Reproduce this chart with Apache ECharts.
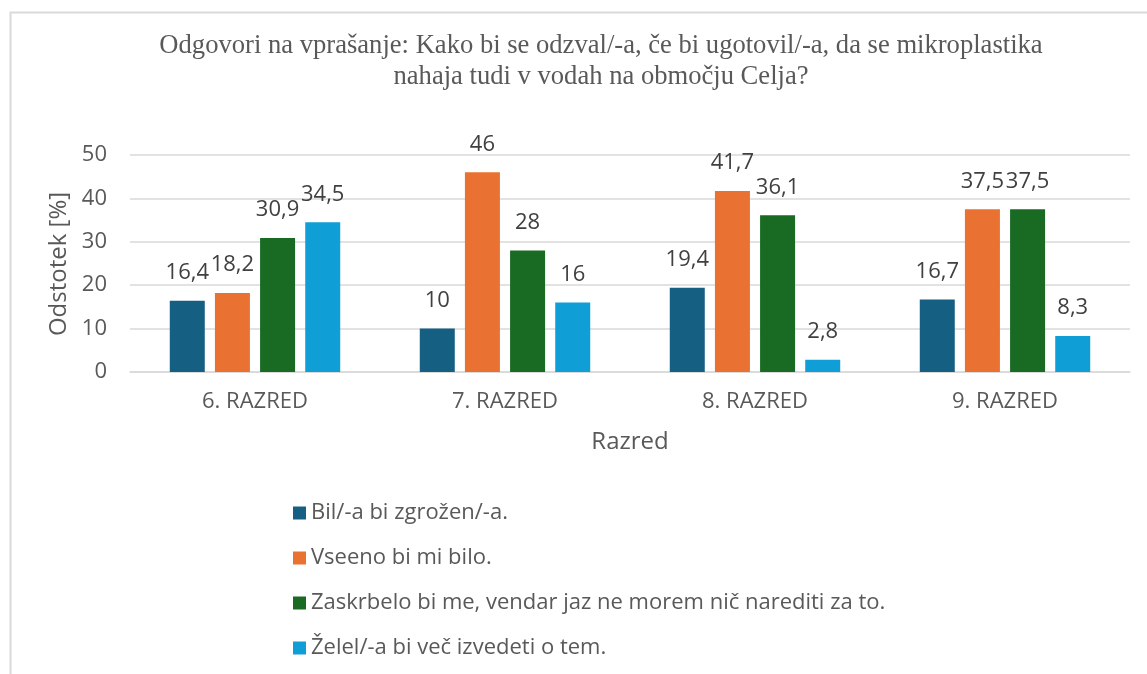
<!DOCTYPE html>
<html><head><meta charset="utf-8">
<script src="https://cdn.jsdelivr.net/npm/echarts@6/dist/echarts.min.js"></script>
<style>html,body{margin:0;padding:0;background:#fff}#c{width:1147px;height:674px}</style>
</head><body><div id="c"></div>
<script>
const categories = ['6. RAZRED', '7. RAZRED', '8. RAZRED', '9. RAZRED'];
const seriesNames = ['Bil/-a bi zgrožen/-a.', 'Vseeno bi mi bilo.', 'Zaskrbelo bi me, vendar jaz ne morem nič narediti za to.', 'Želel/-a bi več izvedeti o tem.'];
const zgrozen = [16.4, 10, 19.4, 16.7];
const vseeno = [18.2, 46, 41.7, 37.5];
const zaskrbelo = [30.9, 28, 36.1, 37.5];
const zelel = [34.5, 16, 2.8, 8.3];
const yTicks = [0, 10, 20, 30, 40, 50];
const colors = ['#156082', '#E97132', '#196B24', '#0F9ED5'];
const titleText = 'Odgovori na vprašanje: Kako bi se odzval/-a, če bi ugotovil/-a, da se mikroplastika\nnahaja tudi v vodah na območju Celja?';
const yAxisName = 'Odstotek [%]';
const xAxisName = 'Razred';

const values = [zgrozen, vseeno, zaskrbelo, zelel];
const chart = echarts.init(document.getElementById('c'));
const sans = 'Open Sans, Noto Sans, sans-serif';
chart.setOption({
  animation: false,
  color: colors,
  title: {
    text: titleText, left: 601, textAlign: 'center', top: 31, padding: 0,
    textStyle: { fontFamily: 'Liberation Serif, Times New Roman, serif', fontWeight: 'normal', fontSize: 26.6, color: '#595959', lineHeight: 31, align: 'center' }
  },
  graphic: [
    { type: 'rect', left: 8, top: 10, shape: { width: 1200, height: 700 }, style: { fill: 'none', stroke: '#d9d9d9', lineWidth: 2 }, z: -1 },
    { type: 'text', x: 59, y: 264, rotation: Math.PI / 2,
      style: { text: yAxisName, fontFamily: sans, fontSize: 24, fill: '#595959', align: 'center', verticalAlign: 'middle' } }
  ],
  legend: {
    orient: 'vertical', left: 288, top: 497, itemWidth: 13, itemHeight: 13, itemGap: 23,
    icon: 'rect',
    textStyle: { fontFamily: sans, fontSize: 22, lineHeight: 22, color: '#595959', padding: [0, 0, 0, 0] }
  },
  grid: { left: 130, right: 17, top: 155, bottom: 302, containLabel: false },
  xAxis: {
    type: 'category', data: categories,
    axisTick: { show: false },
    axisLine: { lineStyle: { color: '#d9d9d9', width: 1.5 } },
    axisLabel: { fontFamily: sans, fontSize: 22, color: '#595959', margin: 19 },
    name: xAxisName, nameLocation: 'middle', nameGap: 58,
    nameTextStyle: { fontFamily: sans, fontSize: 24, color: '#595959' }
  },
  yAxis: {
    type: 'value', min: yTicks[0], max: yTicks[yTicks.length - 1], interval: 10,
    axisLine: { show: false }, axisTick: { show: false },
    splitLine: { lineStyle: { color: '#d9d9d9', width: 1.5 } },
    axisLabel: { fontFamily: sans, fontSize: 22, color: '#595959', margin: 23 }
  },
  series: values.map((v, i) => ({
    name: seriesNames[i], type: 'bar', data: v,
    barWidth: 35, barGap: '29%',
    label: {
      show: true, position: 'top', distance: 17,
      fontFamily: sans, fontSize: 22, color: '#404040',
      formatter: p => String(p.value).replace('.', ',')
    }
  }))
});
</script></body></html>
